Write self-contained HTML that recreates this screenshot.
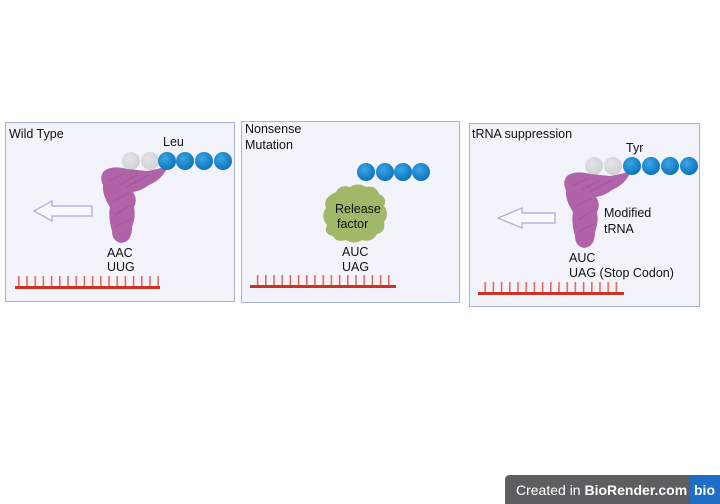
<!DOCTYPE html>
<html><head><meta charset="utf-8"><style>
html,body{margin:0;padding:0;background:#fff;width:720px;height:504px;overflow:hidden}
svg{display:block}
text{font-family:"Liberation Sans",sans-serif;font-size:12.5px;fill:#111}
</style></head><body>
<svg width="720" height="504" viewBox="0 0 720 504" xmlns="http://www.w3.org/2000/svg">
<defs>
<pattern id="teeth" x="18" y="0" width="8.2" height="20" patternUnits="userSpaceOnUse">
<rect x="0" y="0" width="1.6" height="20" fill="#e56a5c"/>
</pattern>
<radialGradient id="bl" cx="0.4" cy="0.35" r="0.7"><stop offset="0" stop-color="#3aa6e8"/><stop offset="1" stop-color="#0b6fb8"/></radialGradient>
<radialGradient id="gr" cx="0.4" cy="0.35" r="0.7"><stop offset="0" stop-color="#e4e4e6"/><stop offset="1" stop-color="#cfd0d4"/></radialGradient>
<g id="trna">
<path d="M567,176 Q575,170 590,174 L610,176 Q622,174 631,171 Q626,184 612,190 Q604,196 596,197 Q601,205 597,212 Q599,222 595,232 Q595,247 584,248 Q575,246 575,236 Q571,222 573,212 Q565,200 566,190 Q562,182 567,176 Z" fill="#b063a8"/>
<path d="M572,186 L588,178 M582,190 L600,180 M590,192 L612,180 M576,206 L592,198 M578,220 L594,210 M578,232 L594,224" stroke="#9a4f93" stroke-width="1.5" fill="none" opacity="0.5"/>
</g>
</defs>
<rect x="5.5" y="122.5" width="229" height="179" fill="#f2f3fb" stroke="#a9b2d8"/>
<rect x="241.5" y="121.5" width="218" height="181" fill="#f2f3fb" stroke="#a9b2d8"/>
<rect x="469.5" y="123.5" width="230" height="183" fill="#f2f3fb" stroke="#a9b2d8"/>

<!-- Panel 1 -->
<text x="9" y="138">Wild Type</text>
<text x="163" y="146">Leu</text>
<circle cx="131" cy="161" r="9" fill="url(#gr)"/><circle cx="150" cy="161" r="9" fill="url(#gr)"/>
<use href="#trna" transform="translate(-463,-5)"/>
<circle cx="167" cy="161" r="9" fill="url(#bl)"/><circle cx="185" cy="161" r="9" fill="url(#bl)"/><circle cx="204" cy="161" r="9" fill="url(#bl)"/><circle cx="223" cy="161" r="9" fill="url(#bl)"/>
<path d="M34,211 L52,201 L52,206 L92,206 L92,216 L52,216 L52,221 Z" fill="#f7f8fe" stroke="#a3acd6" stroke-width="1.2"/>
<text x="107" y="257">AAC</text>
<text x="107" y="271">UUG</text>
<rect x="17" y="276" width="142" height="10" fill="url(#teeth)"/>
<rect x="15" y="286" width="145" height="3" fill="#cc3324"/>

<!-- Panel 2 -->
<text x="245" y="133">Nonsense</text>
<text x="245" y="149">Mutation</text>
<circle cx="366" cy="172" r="9" fill="url(#bl)"/><circle cx="385" cy="172" r="9" fill="url(#bl)"/><circle cx="403" cy="172" r="9" fill="url(#bl)"/><circle cx="421" cy="172" r="9" fill="url(#bl)"/>
<path d="M336,192 Q340,184 350,187 Q358,182 366,187 Q376,185 379,194 Q388,198 384,206 Q390,214 384,222 Q386,232 377,234 Q372,243 362,240 Q354,245 346,240 Q336,243 333,236 Q323,234 327,225 Q320,216 326,208 Q322,198 336,192 Z" fill="#a2b869"/>
<text x="335" y="213">Release</text>
<text x="337" y="228">factor</text>
<text x="342" y="256">AUC</text>
<text x="342" y="271">UAG</text>
<rect x="252" y="275" width="143" height="10" fill="url(#teeth)" transform="translate(1,0)"/>
<rect x="250" y="285" width="146" height="3" fill="#cc3324"/>

<!-- Panel 3 -->
<text x="472" y="138">tRNA suppression</text>
<text x="626" y="152">Tyr</text>
<circle cx="594" cy="166" r="9" fill="url(#gr)"/><circle cx="613" cy="166" r="9" fill="url(#gr)"/>
<use href="#trna"/>
<circle cx="632" cy="166" r="9" fill="url(#bl)"/><circle cx="651" cy="166" r="9" fill="url(#bl)"/><circle cx="670" cy="166" r="9" fill="url(#bl)"/><circle cx="689" cy="166" r="9" fill="url(#bl)"/>
<path d="M498,218 L522,208 L522,213 L555,213 L555,223 L522,223 L522,228 Z" fill="#f7f8fe" stroke="#a3acd6" stroke-width="1.2"/>
<text x="604" y="217">Modified</text>
<text x="604" y="233">tRNA</text>
<text x="569" y="262">AUC</text>
<text x="569" y="277">UAG (Stop Codon)</text>
<rect x="481" y="282" width="141" height="10" fill="url(#teeth)" transform="translate(-1,0)"/>
<rect x="478" y="292" width="146" height="3" fill="#cc3324"/>

<!-- badge -->
<path d="M510,475 L720,475 L720,504 L505,504 L505,480 Q505,475 510,475 Z" fill="#5e5e60"/>
<rect x="690" y="475" width="30" height="29" fill="#1f6ec6"/>
<text x="516" y="495" style="font-size:14px;fill:#fff">Created in <tspan style="font-weight:bold">BioRender.com</tspan></text>
<text x="694" y="495" style="font-size:14px;fill:#fff;font-weight:bold">bio</text>
</svg>
</body></html>
